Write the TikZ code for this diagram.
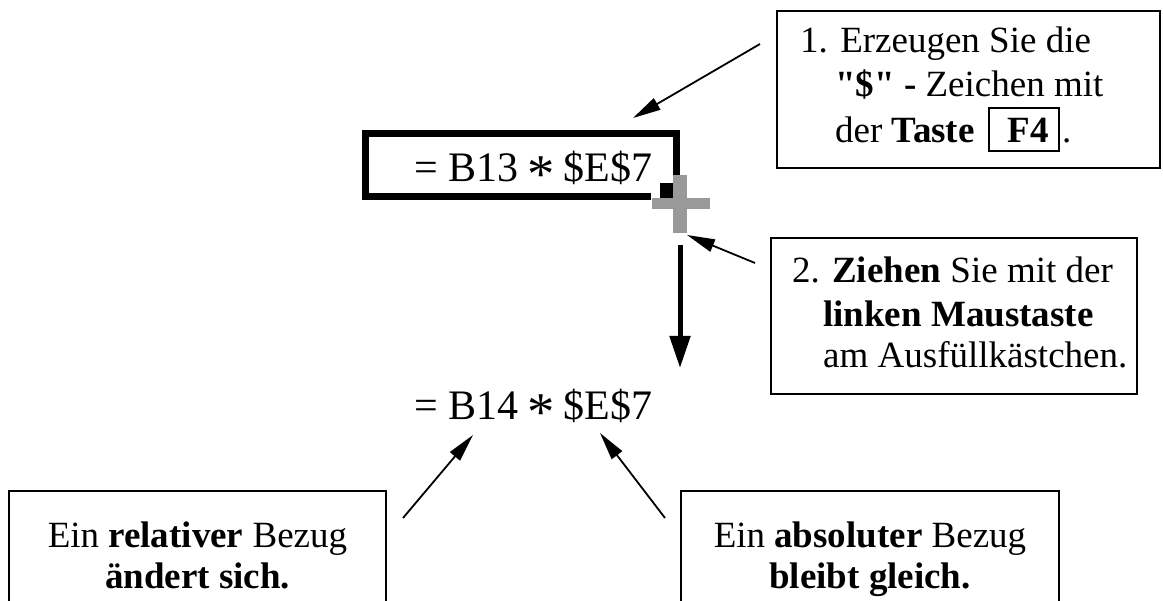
\documentclass[tikz,border=0pt]{standalone}
\usepackage{fontspec}
\setmainfont{Liberation Serif}
\usetikzlibrary{arrows.meta}
\definecolor{handlegray}{HTML}{999999}
\newcommand{\myast}{\kern-1.5pt\raisebox{-0.26em}{\scalebox{1.3}{*}}\kern-1.5pt}
\begin{document}
\begin{tikzpicture}[x=1pt,y=-1pt,
  txt/.style={inner sep=0pt, anchor=base west, font=\fontsize{37}{44}\selectfont},
  ctxt/.style={inner sep=0pt, anchor=base, font=\fontsize{37}{44}\selectfont},
  frm/.style={inner sep=0pt, anchor=base west, font=\fontsize{42}{50}\selectfont},
  box/.style={draw, line width=2pt, inner sep=0pt, rectangle},
  keybox/.style={draw, line width=1.6pt, inner sep=0pt, rectangle},
  thinarrow/.style={line width=1.8pt, -{Triangle[length=28pt,width=13pt]}},
  bigarrow/.style={line width=5pt, -{Triangle[length=32pt,width=20pt]}},
  cellframe/.style={line width=7pt},
  handle/.style={fill=handlegray}
]
\clip (0,0) rectangle (1163,601);
\fill[white] (0,0) rectangle (1163,601);

% --- box 1
\node[box, minimum width=383pt, minimum height=157pt] (b1) at (968.5,89.5) {};
\node[txt] (b1l1) at (800,53) {1. Erzeugen Sie die};
\node[txt] (b1l2) at (835,97) {\textbf{\textquotedbl\$\textquotedbl\ -} Zeichen mit};
\node[txt] (b1l3) at (835,143) {der \textbf{Taste}};
\node[keybox, minimum width=70pt, minimum height=43pt] (key) at (1024,129.5) {};
\node[ctxt] (keytxt) at (1028,143) {\textbf{F4}};
\node[txt] (dot) at (1062,143) {.};

% --- box 2
\node[box, minimum width=366pt, minimum height=156pt] (b2) at (954,316) {};
\node[txt] (b2l1) at (792,283) {2. \textbf{Ziehen} Sie mit der};
\node[txt] (b2l2) at (823,327) {\textbf{linken Maustaste}};
\node[txt] (b2l3) at (823,368) {am Ausfüllkästchen.};

% --- formula cell
\draw[cellframe] (676.5,175) -- (676.5,133.5) -- (365.5,133.5) -- (365.5,196.5) -- (651,196.5);
\node[frm] (f1) at (414,182) {= B13 \myast{} \$E\$7};
\fill (660,183) rectangle (675,198);
\fill[handle] (673,175) rectangle (687,233);
\fill[handle] (652,198) rectangle (710,209);

\node[frm] (f2) at (414,420) {= B14 \myast{} \$E\$7};

% --- bottom boxes
\node[box, minimum width=377pt, minimum height=149pt] (b3) at (197.5,565.5) {};
\node[ctxt] (b3l1) at (197.5,548) {Ein \textbf{relativer} Bezug};
\node[ctxt] (b3l2) at (197.5,588) {\textbf{ändert sich.}};
\node[box, minimum width=378pt, minimum height=149pt] (b4) at (870,565.5) {};
\node[ctxt] (b4l1) at (870,548) {Ein \textbf{absoluter} Bezug};
\node[ctxt] (b4l2) at (870,588) {\textbf{bleibt gleich.}};

% --- arrows
\coordinate (a1s) at (760,44);
\coordinate (a1e) at (633,118);
\draw[thinarrow] (a1s) -- (a1e);
\coordinate (a2s) at (755,263);
\coordinate (a2e) at (687,235);
\draw[thinarrow] (a2s) -- (a2e);
\coordinate (vs) at (680,245);
\coordinate (ve) at (680,368);
\draw[bigarrow] (vs) -- (ve);
\coordinate (a3s) at (403,518);
\coordinate (a3e) at (473,435);
\draw[thinarrow] (a3s) -- (a3e);
\coordinate (a4s) at (665,518);
\coordinate (a4e) at (600,433);
\draw[thinarrow] (a4s) -- (a4e);
\end{tikzpicture}
\end{document}
